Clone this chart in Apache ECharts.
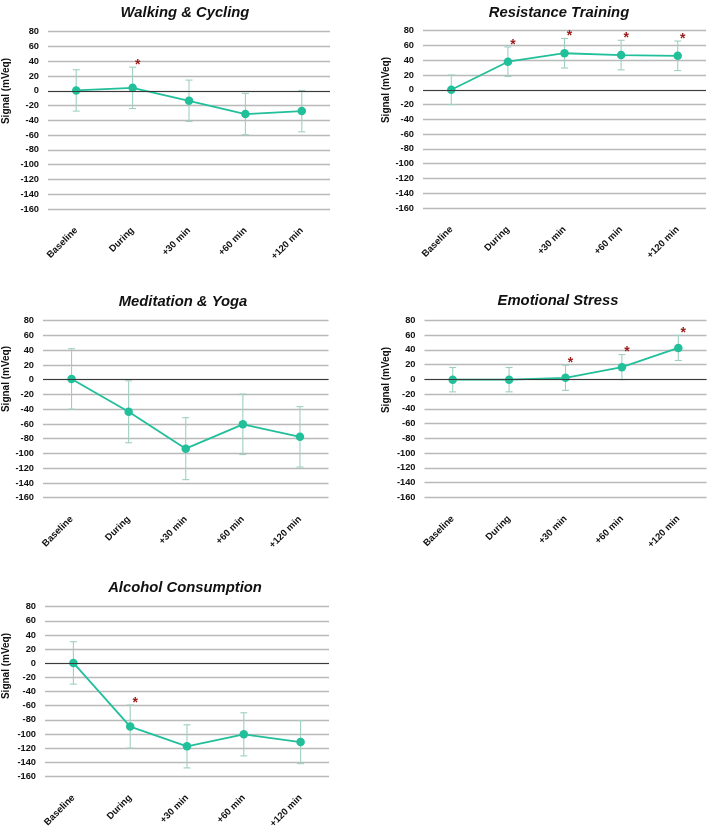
<!DOCTYPE html>
<html>
<head>
<meta charset="utf-8">
<script src="https://cdn.jsdelivr.net/npm/echarts@6/dist/echarts.min.js"></script>
<style>html,body{margin:0;padding:0;background:#fff}#c{width:708px;height:831px}</style>
</head>
<body>
<div id="c"></div>
<script>
const categories = ['Baseline', 'During', '+30 min', '+60 min', '+120 min'];
const yTicks = { min: -160, max: 80, interval: 20 };

const titles = ['Walking & Cycling', 'Resistance Training', 'Meditation & Yoga', 'Emotional Stress', 'Alcohol Consumption'];
const yAxisName = 'Signal (mVeq)';

const walkMean = [0.5, 4, -13.5, -31.5, -27.5];
const walkErr = [28, 28, 28, 28, 28];
const walkSig = [0, 1, 0, 0, 0];

const resMean = [0, 38, 49.5, 47, 46];
const resErr = [20, 20, 20, 20, 20];
const resSig = [0, 1, 1, 1, 1];

const medMean = [1, -43.5, -93.5, -60.5, -77.5];
const medErr = [41, 42, 42, 41, 41];
const medSig = [0, 0, 0, 0, 0];

const emoMean = [-0.5, -0.5, 2, 16.5, 42.5];
const emoErr = [16.5, 16.5, 17, 17, 17];
const emoSig = [0, 0, 1, 1, 1];

const alcMean = [0.5, -89.5, -117.5, -100.5, -111.5];
const alcErr = [30, 30.5, 30.5, 30.5, 30.5];
const alcSig = [0, 1, 0, 0, 0];

const panels = [
  { mean: walkMean, err: walkErr, sig: walkSig },
  { mean: resMean, err: resErr, sig: resSig },
  { mean: medMean, err: medErr, sig: medSig },
  { mean: emoMean, err: emoErr, sig: emoSig },
  { mean: alcMean, err: alcErr, sig: alcSig }
];

// layout (px)
const grids = [
  { left: 48, top: 31.7, width: 282, height: 177.3 },
  { left: 423, top: 30.7, width: 283, height: 177.3 },
  { left: 43, top: 320.7, width: 285.5, height: 177 },
  { left: 424.5, top: 320.3, width: 282, height: 177 },
  { left: 45, top: 606.7, width: 284, height: 177.3 }
];
const titlePos = [[180, 0], [554, 0], [178, 289], [553, 288], [180, 575]];
const yNamePos = [[6, 91], [386, 90], [6, 379], [386, 380], [6, 666]];

const LINE = '#22bf9b';
const ERR = '#9fcfc3';
const STAR = '#9b1b1b';
const FONT = 'Liberation Sans, Arial, sans-serif';

const option = {
  animation: false,
  backgroundColor: '#fff',
  title: [], grid: [], xAxis: [], yAxis: [], series: [], graphic: []
};

panels.forEach((p, i) => {
  const g = grids[i];
  option.grid.push({ left: g.left, top: g.top, width: g.width, height: g.height, containLabel: false });
  option.title.push({
    text: titles[i], left: titlePos[i][0], top: titlePos[i][1], textAlign: 'center',
    textStyle: { fontFamily: FONT, fontSize: 14.8, fontWeight: 'bold', fontStyle: 'italic', color: '#111' }
  });
  option.graphic.push({
    type: 'text', x: yNamePos[i][0], y: yNamePos[i][1], rotation: Math.PI / 2,
    style: { text: yAxisName, fontFamily: FONT, fontSize: 10, fontWeight: 'bold', fill: '#111', align: 'center', verticalAlign: 'middle' }
  });
  option.xAxis.push({
    type: 'category', gridIndex: i, data: categories, boundaryGap: true,
    axisLine: { show: false }, axisTick: { show: false },
    axisLabel: { rotate: 45, margin: 20, fontFamily: FONT, fontSize: 9.5, fontWeight: 'bold', color: '#111', interval: 0 }
  });
  option.yAxis.push({
    type: 'value', gridIndex: i, min: yTicks.min, max: yTicks.max, interval: yTicks.interval,
    axisLine: { show: false }, axisTick: { show: false },
    axisLabel: { margin: 9, fontFamily: FONT, fontSize: 9.3, fontWeight: 'bold', color: '#111' },
    splitLine: { show: true, lineStyle: { color: '#b9b9b9', width: 1.3 } }
  });
  // error bars
  option.series.push({
    type: 'custom', xAxisIndex: i, yAxisIndex: i, silent: true, z: 2,
    data: p.mean.map((m, k) => [k, m - p.err[k], m + p.err[k]]),
    renderItem: (params, api) => {
      const lo = api.coord([api.value(0), api.value(1)]);
      const hi = api.coord([api.value(0), api.value(2)]);
      const w = 3.5;
      const st = { stroke: ERR, lineWidth: 1.1 };
      return { type: 'group', children: [
        { type: 'line', shape: { x1: lo[0], y1: lo[1], x2: hi[0], y2: hi[1] }, style: st },
        { type: 'line', shape: { x1: lo[0] - w, y1: lo[1], x2: lo[0] + w, y2: lo[1] }, style: st },
        { type: 'line', shape: { x1: hi[0] - w, y1: hi[1], x2: hi[0] + w, y2: hi[1] }, style: st }
      ]};
    }
  });
  // mean line
  option.series.push({
    type: 'line', xAxisIndex: i, yAxisIndex: i, data: p.mean, z: 3,
    symbol: 'circle', symbolSize: 8.5, showSymbol: true,
    lineStyle: { color: LINE, width: 1.8 }, itemStyle: { color: LINE },
    markLine: { silent: true, symbol: 'none', label: { show: false },
      lineStyle: { color: '#3a3a3a', width: 1.1, type: 'solid' }, data: [{ yAxis: 0 }] }
  });
  // significance stars
  option.series.push({
    type: 'custom', xAxisIndex: i, yAxisIndex: i, silent: true, z: 4,
    data: p.mean.map((m, k) => [k, m + p.err[k], p.sig[k]]).filter(d => d[2] === 1),
    renderItem: (params, api) => {
      const c = api.coord([api.value(0), api.value(1)]);
      return { type: 'text', x: c[0] + 5, y: c[1] - 2,
        style: { text: '*', fontFamily: FONT, fontSize: 14, fontWeight: 'bold', fill: STAR, align: 'center', verticalAlign: 'middle' } };
    }
  });
});

const chart = echarts.init(document.getElementById('c'), null, { renderer: 'canvas' });
chart.setOption(option);
</script>
</body>
</html>
